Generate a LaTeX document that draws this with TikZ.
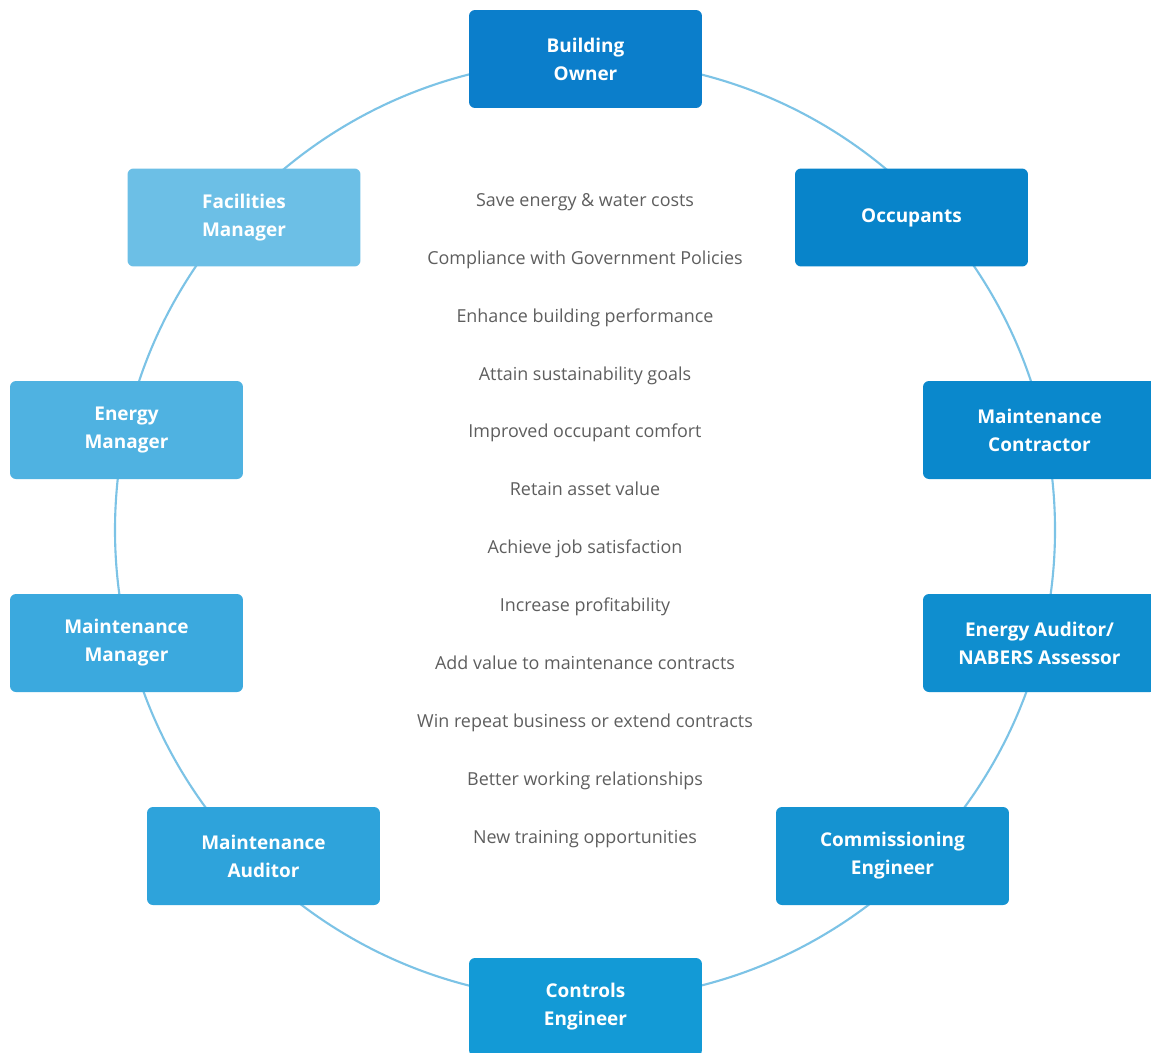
\documentclass[tikz,border=0pt]{standalone}
\usepackage{fontspec}
\setmainfont{Open Sans}
\usepackage{tikz}

\definecolor{ringblue}{HTML}{7CC3E6}
\definecolor{goaltext}{HTML}{5E5E5E}
\definecolor{c1}{HTML}{0B7ECB}
\definecolor{c2}{HTML}{0884CA}
\definecolor{c3}{HTML}{0A88CC}
\definecolor{c4}{HTML}{0F8ECF}
\definecolor{c5}{HTML}{1593D1}
\definecolor{c6}{HTML}{139AD6}
\definecolor{c7}{HTML}{2EA3DB}
\definecolor{c8}{HTML}{3BA9DE}
\definecolor{c9}{HTML}{4FB2E1}
\definecolor{c10}{HTML}{6CBFE6}

\begin{document}
\begin{tikzpicture}[x=0.02cm,y=-0.02cm,
    role/.style={rounded corners=3.4pt,minimum width=4.66cm,minimum height=1.96cm,
      text=white,align=center,font=\bfseries\fontsize{10.8}{15.9}\selectfont},
    goal/.style={text=goaltext,font=\fontsize{10.2}{12}\selectfont,
      text height=8pt,text depth=2.5pt,inner sep=0pt},
    ring/.style={draw=ringblue,line width=1.2pt}]
    \clip (0,0) rectangle (1151,1052);
    \fill[white] (0,0) rectangle (1151,1052);

    % the ring behind the roles
    \coordinate (hub) at (585,530);
    \draw[ring] (hub) circle (470);

    % roles
    \node[role,fill=c1] (owner) at (585.5,59) {Building\\Owner};
    \node[role,fill=c2] (occupants) at (911.5,217.5) {Occupants};
    \node[role,fill=c3] (contractor) at (1039.5,430) {Maintenance\\Contractor};
    \node[role,fill=c4] (assessor) at (1039.5,643) {Energy Auditor/\\NABERS Assessor};
    \node[role,fill=c5] (commissioning) at (892.5,856) {Commissioning\\Engineer};
    \node[role,fill=c6] (controls) at (585.5,1007) {Controls\\Engineer};
    \node[role,fill=c7] (maintauditor) at (263.5,856) {Maintenance\\Auditor};
    \node[role,fill=c8] (maintmanager) at (126.5,643) {Maintenance\\Manager};
    \node[role,fill=c9] (energymanager) at (126.5,430) {Energy\\Manager};
    \node[role,fill=c10] (facilities) at (244,217.5) {Facilities\\Manager};

    % benefits
    \node[goal] (g1) at (585,202) {Save energy \& water costs};
    \node[goal] (g2) at (585,260) {Compliance with Government Policies};
    \node[goal] (g3) at (585,318) {Enhance building performance};
    \node[goal] (g4) at (585,376) {Attain sustainability goals};
    \node[goal] (g5) at (585,433) {Improved occupant comfort};
    \node[goal] (g6) at (585,491) {Retain asset value};
    \node[goal] (g7) at (585,549) {Achieve job satisfaction};
    \node[goal] (g8) at (585,607) {Increase profitability};
    \node[goal] (g9) at (585,665) {Add value to maintenance contracts};
    \node[goal] (g10) at (585,723) {Win repeat business or extend contracts};
    \node[goal] (g11) at (585,781) {Better working relationships};
    \node[goal] (g12) at (585,839) {New training opportunities};
\end{tikzpicture}
\end{document}
